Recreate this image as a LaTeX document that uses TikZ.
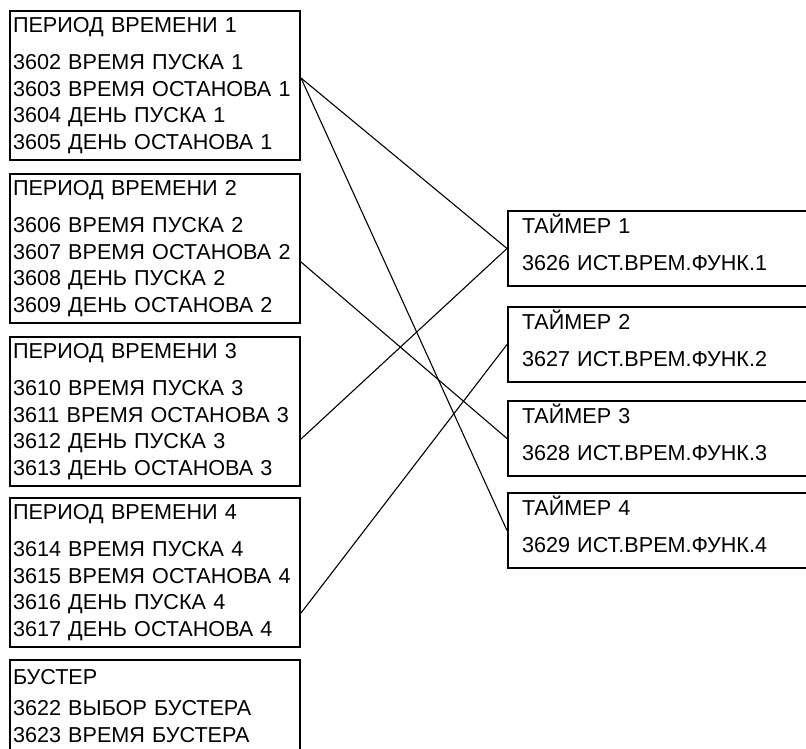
\documentclass[tikz,border=0pt]{standalone}
\usepackage{fontspec}
\setmainfont{Liberation Sans}
\usepackage{tikz}

\begin{document}
\begin{tikzpicture}[
  x=1pt,y=1pt,
  font=\fontsize{21.6}{26.5}\selectfont,
  group/.style={draw=black,line width=2pt,anchor=north west,minimum width=290pt,minimum height=149pt,inner xsep=3pt,inner ysep=0pt,text width=284pt,align=left},
  timer/.style={draw=black,line width=2pt,anchor=north west,minimum width=320pt,minimum height=75pt,inner xsep=14pt,inner ysep=0pt,text width=292pt,align=left,
    execute at end node={\rule[-12.5pt]{0pt}{0pt}}},
  link/.style={draw=black,line width=1.1pt}
]
\useasboundingbox (0,0) rectangle (806,-748);
\clip (0,0) rectangle (806,-748);

\node[group] (per1) at (9,-10)  {ПЕРИОД ВРЕМЕНИ 1\\[10.5pt]3602 ВРЕМЯ ПУСКА 1\\3603 ВРЕМЯ ОСТАНОВА 1\\3604 ДЕНЬ ПУСКА 1\\3605 ДЕНЬ ОСТАНОВА 1};
\node[group] (per2) at (9,-173) {ПЕРИОД ВРЕМЕНИ 2\\[10.5pt]3606 ВРЕМЯ ПУСКА 2\\3607 ВРЕМЯ ОСТАНОВА 2\\3608 ДЕНЬ ПУСКА 2\\3609 ДЕНЬ ОСТАНОВА 2};
\node[group] (per3) at (9,-336) {ПЕРИОД ВРЕМЕНИ 3\\[10.5pt]3610 ВРЕМЯ ПУСКА 3\\3611 ВРЕМЯ ОСТАНОВА 3\\3612 ДЕНЬ ПУСКА 3\\3613 ДЕНЬ ОСТАНОВА 3};
\node[group] (per4) at (9,-497) {ПЕРИОД ВРЕМЕНИ 4\\[10.5pt]3614 ВРЕМЯ ПУСКА 4\\3615 ВРЕМЯ ОСТАНОВА 4\\3616 ДЕНЬ ПУСКА 4\\3617 ДЕНЬ ОСТАНОВА 4};
\node[group,minimum height=92pt] (boost) at (9,-659) {БУСТЕР\\[5pt]3622 ВЫБОР БУСТЕРА\\3623 ВРЕМЯ БУСТЕРА};

\node[timer] (tim1) at (507,-210) {ТАЙМЕР 1\\[10.5pt]3626 ИСТ.ВРЕМ.ФУНК.1};
\node[timer] (tim2) at (507,-306) {ТАЙМЕР 2\\[10.5pt]3627 ИСТ.ВРЕМ.ФУНК.2};
\node[timer] (tim3) at (507,-400) {ТАЙМЕР 3\\[10.5pt]3628 ИСТ.ВРЕМ.ФУНК.3};
\node[timer] (tim4) at (507,-492) {ТАЙМЕР 4\\[10.5pt]3629 ИСТ.ВРЕМ.ФУНК.4};

\draw[link] ([yshift=-68pt]per1.north east) -- (tim1.west);
\draw[link] ([yshift=-68pt]per1.north east) -- (tim4.west);
\draw[link] ([yshift=-89pt]per2.north east) -- (tim3.west);
\draw[link] ([yshift=-103pt]per3.north east) -- (tim1.west);
\draw[link] ([yshift=-116pt]per4.north east) -- (tim2.west);
\end{tikzpicture}
\end{document}
